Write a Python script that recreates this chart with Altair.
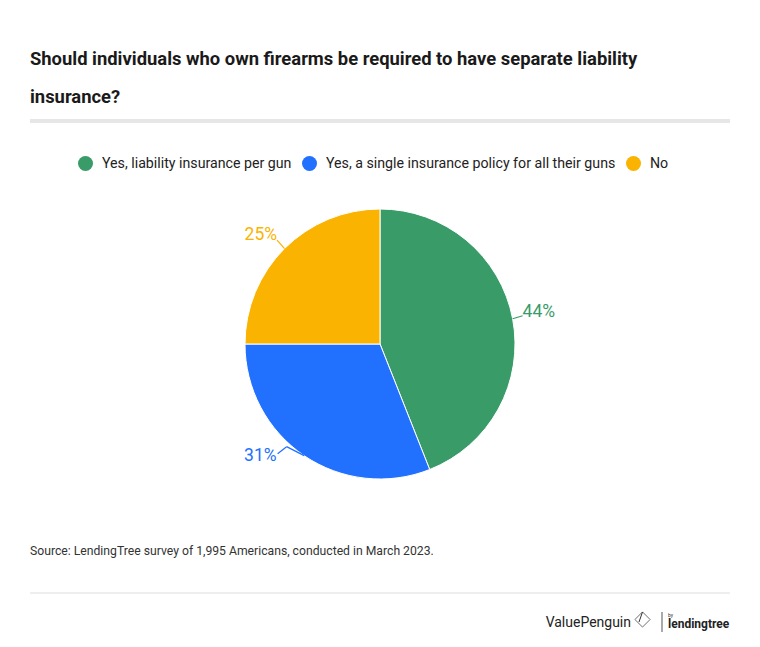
import altair as alt
import pandas as pd

# ---- data ----
categories = ["Yes, liability insurance per gun",
              "Yes, a single insurance policy for all their guns",
              "No"]
values = [44, 31, 25]
labels = ["44%", "31%", "25%"]
colors = ["#389b68", "#2270fe", "#fab300"]

title_lines = ["Should individuals who own firearms be required to have separate liability",
               "insurance?"]
source_text = "Source: LendingTree survey of 1,995 Americans, conducted in March 2023."

df = pd.DataFrame({"cat": categories, "val": values, "lab": labels,
                   "idx": list(range(len(categories)))})

W, H = 744, 631
CX, CY, R = 372, 336, 135
FONT = "Roboto"

base = alt.Chart(df)

pie = base.mark_arc(outerRadius=R, stroke="white", strokeWidth=1).encode(
    theta=alt.Theta("val:Q", stack=True),
    color=alt.Color("cat:N", scale=alt.Scale(domain=categories, range=colors),
                    legend=alt.Legend(orient="none", legendX=70, legendY=148,
                                      direction="horizontal", title=None,
                                      symbolType="circle", symbolSize=225,
                                      symbolStrokeWidth=0, labelFont=FONT,
                                      labelFontSize=14.2, labelColor="#222222",
                                      labelOffset=9, columnPadding=10,
                                      labelLimit=500, padding=0)),
    order=alt.Order("idx:Q"),
    x=alt.value(CX), y=alt.value(CY),
)

geo = base.transform_window(
    cum="sum(val)", sort=[alt.SortField("idx")], frame=[None, 0]
).transform_joinaggregate(total="sum(val)").transform_calculate(
    mid="(datum.cum - datum.val/2)/datum.total*2*PI",
).transform_calculate(
    ex=f"{CX} + {R}*sin(datum.mid)",
    ey=f"{CY} - {R}*cos(datum.mid)",
)


def label_layer(i, leader, text_off, align, bend=None):
    ox, oy = leader
    tx, ty = text_off
    g = geo.transform_filter(alt.datum.idx == i).transform_calculate(
        lx=f"datum.ex + ({ox})", ly=f"datum.ey + ({oy})")
    layers = []
    pts = [("ex", "ey")]
    if bend is not None:
        bx, by = bend
        g = g.transform_calculate(bx=f"datum.ex + ({bx})", by=f"datum.ey + ({by})")
        pts.append(("bx", "by"))
    pts.append(("lx", "ly"))
    for (a, b), (c, d) in zip(pts[:-1], pts[1:]):
        layers.append(g.mark_rule(color=colors[i], strokeWidth=1.2).encode(
            x=alt.X(f"{a}:Q", scale=None), y=alt.Y(f"{b}:Q", scale=None),
            x2=f"{c}:Q", y2=f"{d}:Q"))
    layers.append(g.mark_text(font=FONT, fontSize=17.5, color=colors[i], align=align,
                              baseline="middle", dx=tx, dy=ty).encode(
        x=alt.X("lx:Q", scale=None), y=alt.Y("ly:Q", scale=None), text="lab:N"))
    return alt.layer(*layers)


lab44 = label_layer(0, (10, -3), (0, -4), "left")
lab31 = label_layer(1, (-26.5, -2), (-1, 2.5), "right", bend=(-17.5, -9))
lab25 = label_layer(2, (-7.5, -8.5), (0, -5), "right")


def txt(s, x, y, size, color="#222222", weight="normal", align="left"):
    return alt.Chart(pd.DataFrame({"t": [s]})).mark_text(
        font=FONT, fontSize=size, color=color, fontWeight=weight, align=align,
        baseline="alphabetic").encode(x=alt.value(x), y=alt.value(y), text="t:N")


title1 = txt(title_lines[0], 22, 57, 18.4, "#1a1a1a", "bold")
title2 = txt(title_lines[1], 22, 95, 18.4, "#1a1a1a", "bold")
band = alt.Chart(pd.DataFrame({"a": [0]})).mark_rule(color="#e6e6e6", strokeWidth=4).encode(
    x=alt.value(22), x2=alt.value(722), y=alt.value(113))
src = txt(source_text, 22, 547, 12.2, "#333333")
thin = alt.Chart(pd.DataFrame({"a": [0]})).mark_rule(color="#dddddd", strokeWidth=1).encode(
    x=alt.value(22), x2=alt.value(722), y=alt.value(585))
vp = txt("ValuePenguin", 623, 619, 14, "#222222", align="right")
icon = alt.Chart(pd.DataFrame({"a": [0]})).mark_point(shape="diamond", filled=False,
                                                       color="#333333", size=230, strokeWidth=1).encode(
    x=alt.value(634.5), y=alt.value(611.5))
icon_line = alt.Chart(pd.DataFrame({"a": [0]})).mark_rule(color="#333333", strokeWidth=1).encode(
    x=alt.value(634.5), y=alt.value(604), x2=alt.value(631), y2=alt.value(614))
divider = alt.Chart(pd.DataFrame({"a": [0]})).mark_rule(color="#555555", strokeWidth=1).encode(
    x=alt.value(654), y=alt.value(604), y2=alt.value(624))
by = txt("by", 660, 609, 5, "#333333")
lt = txt("lendingtree", 660, 620, 12, "#222222", "bold")

chart = alt.layer(title1, title2, band, pie, lab44, lab31, lab25, src, thin, vp, icon,
                  icon_line, divider, by, lt).properties(
    width=W, height=H, padding=0, autosize=alt.AutoSizeParams(type="none"),
    background="white"
).configure_view(stroke=None)

chart.save("out.html", embed_options={"renderer": "svg", "actions": False})
